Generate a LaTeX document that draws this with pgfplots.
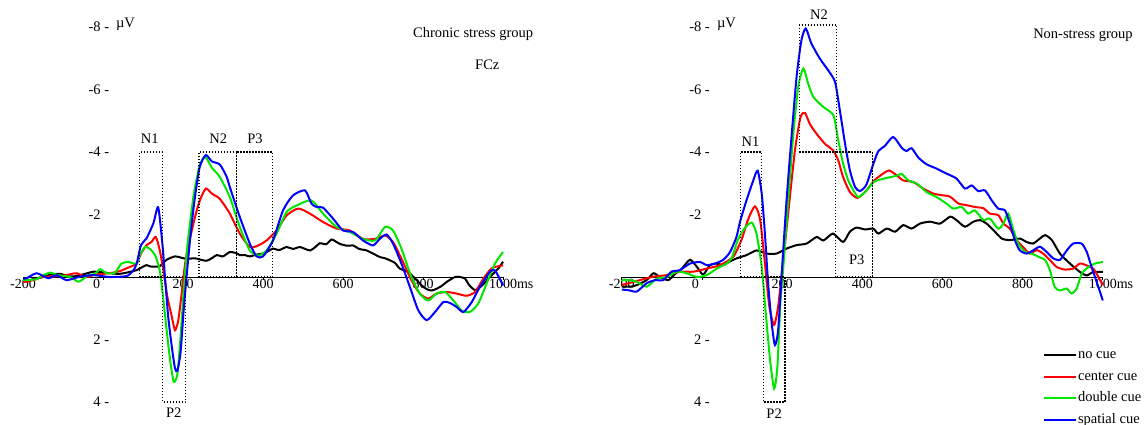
\documentclass[border=0pt]{standalone}
\usepackage{fontspec}
\setmainfont{Liberation Serif}
\usepackage{pgfplots}
\pgfplotsset{compat=1.18}

\definecolor{cuered}{RGB}{255,0,0}
\definecolor{cuegreen}{RGB}{0,230,0}
\definecolor{cueblue}{RGB}{0,0,255}
\definecolor{cueblack}{RGB}{0,0,0}
\newcommand{\lbl}{\fontsize{14.5}{17}\selectfont}

\pgfplotsset{
  erp/.style={
    scale only axis, height=418.75pt, anchor=south west,
    xmin=-200, xmax=1000, ymin=-8.8, ymax=4.6, y dir=reverse,
    axis x line=middle, axis y line=none,
    x axis line style={-, line width=1pt},
    xtick={-200,0,...,1000},
    xticklabels={-200,\makebox[0pt][r]{0\kern3pt},200,400,600,800,1000\rlap{ms}},
    ytick=\empty,
    major tick length=3pt, tick align=inside,
    xtick style={black, line width=0.8pt},
    x tick label style={font=\fontsize{14}{16}\selectfont, inner sep=2pt},
    clip=false,
    every axis plot/.append style={smooth, tension=0.4, line width=2pt},
  },
}
\tikzset{
  txt/.style={font=\lbl, inner sep=0pt},
  box/.style={black, line width=1.3pt, dash pattern=on 1.4pt off 1.6pt},
}

\begin{document}
\begin{tikzpicture}
\useasboundingbox (0,0) rectangle (1147pt,425pt);

% Chronic stress group
\begin{axis}[erp, width=480pt, at={(23pt,4.25pt)}]
  % no cue
  \addplot[cueblack] coordinates {
    (-200,0.1) (-191,0.15) (-170,0.05) (-150,0) (-130,-0.08) (-107,-0.1) (-85,-0.02)
    (-66,-0.03) (-45,-0.1) (-24,-0.17) (0,-0.15) (17,-0.12) (40,-0.1) (59,-0.14)
    (84,-0.22) (100,-0.33) (109,-0.38) (121,-0.33) (142,-0.35) (159,-0.55) (180,-0.66)
    (195,-0.62) (209,-0.58) (230,-0.6) (245,-0.55) (259,-0.52) (272,-0.6) (284,-0.7)
    (300,-0.66) (317,-0.8) (334,-0.76) (342,-0.7) (355,-0.7) (367,-0.66) (385,-0.72)
    (400,-0.75) (412,-0.82) (425,-0.91) (440,-0.86) (459,-0.96) (475,-0.9) (492,-0.96)
    (505,-0.9) (518,-0.85) (530,-0.95) (542,-1.08) (558,-1.05) (571,-1.2) (580,-1.15)
    (592,-1.06) (610,-1.0) (625,-1.01) (640,-0.9) (659,-0.85) (675,-0.75) (692,-0.64)
    (705,-0.6) (718,-0.53) (730,-0.45) (742,-0.27) (763,-0.16) (784,0.1) (801,0.32)
    (815,0.42) (826,0.42) (845,0.3) (860,0.15) (880,0.0) (892,0) (905,0.05) (915,0.25)
    (930,0.42) (945,0.3) (960,0.1) (975,-0.1) (990,-0.3) (1000,-0.49)
  };
  % center cue
  \addplot[cuered] coordinates {
    (-200,0.15) (-191,0.15) (-170,0.08) (-150,0) (-128,-0.02) (-107,-0.03) (-85,-0.08)
    (-66,-0.12) (-41,0) (-20,-0.08) (0,-0.1) (26,-0.14) (45,-0.2) (59,-0.28) (84,-0.43)
    (95,-0.75) (109,-1.02) (121,-1.12) (132,-1.28) (142,-0.85) (151,-0.2) (161,0.64)
    (172,1.27) (180,1.7) (188,1.4) (196,0.6) (205,-0.4) (213,-0.97) (230,-1.92)
    (242,-2.45) (257,-2.83) (272,-2.67) (292,-2.5) (317,-2.03) (342,-1.39) (367,-0.96)
    (388,-1.01) (409,-1.17) (434,-1.49) (459,-1.97) (488,-2.19) (517,-2.03) (550,-1.76)
    (584,-1.55) (617,-1.49) (650,-1.22) (680,-1.22) (705,-1.33) (725,-1.12) (746,-0.59)
    (771,0.1) (792,0.53) (813,0.69) (834,0.53) (859,0.48) (884,0.53) (909,0.6)
    (930,0.48) (951,0.05) (971,-0.27) (990,-0.35) (1000,-0.37)
  };
  % double cue
  \addplot[cuegreen] coordinates {
    (-200,0.1) (-191,0.1) (-166,0.07) (-150,-0.05) (-132,-0.14) (-112,-0.06) (-82,0)
    (-62,0.15) (-48,0.05) (-37,-0.06) (-20,-0.1) (-7,-0.25) (9,-0.12) (30,-0.14)
    (46,-0.43) (63,-0.48) (84,-0.43) (92,-0.7) (105,-0.96) (117,-0.9) (130,-0.7)
    (142,-0.2) (152,0.85) (161,1.92) (169,2.77) (177,3.36) (186,3.1) (194,1.9)
    (202,0.4) (211,-1.0) (226,-2.57) (241,-3.53) (255,-3.85) (272,-3.5) (292,-3.2)
    (317,-2.56) (342,-1.6) (367,-0.85) (388,-0.69) (409,-0.85) (434,-1.39) (459,-2.08)
    (484,-2.29) (521,-2.45) (550,-2.03) (584,-1.6) (617,-1.44) (650,-1.22) (680,-1.17)
    (705,-1.6) (725,-1.49) (746,-0.91) (771,0) (792,0.53) (813,0.75) (834,0.53)
    (855,0.48) (876,0.75) (896,1.07) (917,1.12) (938,0.85) (959,0.21) (980,-0.43)
    (1000,-0.8)
  };
  % spatial cue
  \addplot[cueblue] coordinates {
    (-200,0.05) (-191,0.04) (-166,-0.12) (-137,0.04) (-116,-0.06) (-91,0.1) (-58,-0.01)
    (-24,-0.06) (17,0) (59,-0.03) (75,-0.2) (84,-0.42) (95,-1.02) (109,-1.24)
    (126,-1.72) (138,-2.23) (149,-0.99) (155,0) (163,1.27) (172,2.23) (180,2.92)
    (186,3.0) (194,2.4) (202,1.0) (211,-0.3) (220,-1.5) (230,-2.57) (242,-3.53)
    (257,-3.9) (272,-3.7) (292,-3.6) (309,-3.21) (317,-2.88) (342,-1.92) (367,-1.07)
    (384,-0.66) (400,-0.66) (425,-1.17) (450,-2.13) (475,-2.61) (505,-2.77) (521,-2.35)
    (534,-2.24) (550,-2.22) (575,-1.87) (600,-1.49) (625,-1.44) (650,-1.17) (675,-1.01)
    (692,-1.22) (709,-1.36) (725,-1.07) (746,-0.43) (767,0.31) (788,1.06) (809,1.38)
    (830,1.12) (851,0.8) (867,0.83) (884,0.96) (901,1.12) (922,0.8) (942,0.32)
    (967,-0.16) (980,-0.21) (1000,0.27)
  };
  % component windows
  \draw[box] (axis cs:92,0) rectangle (axis cs:148,-4);
  \draw[box] (axis cs:149,0) rectangle (axis cs:207,4);
  \draw[box] (axis cs:240,0) rectangle (axis cs:333,-4);
  \draw[box] (axis cs:333,0) rectangle (axis cs:424,-4);
  \node[txt] at (axis cs:117,-4.42) {N1};
  \node[txt] at (axis cs:288,-4.42) {N2};
  \node[txt] at (axis cs:380,-4.42) {P3};
  \node[txt] at (axis cs:177,4.35) {P2};
  % y labels
  \pgfplotsinvokeforeach{-8,-6,-4,2,4}{\node[txt, anchor=east] at (axis cs:16,#1) {#1 -};}
  \node[txt, anchor=east] at (axis cs:16,-2) {-2\phantom{ -}};
  \node[txt, anchor=west] at (axis cs:32,-8.08) {µV};
  \node[txt, anchor=west] at (axis cs:775,-7.78) {Chronic stress group};
  \node[txt, anchor=west] at (axis cs:930,-6.78) {FCz};
\end{axis}

% Non-stress group
\begin{axis}[erp, width=481pt, at={(621.8pt,4.25pt)},
  legend style={draw=none, fill=none, at={(axis cs:843,2.2)}, anchor=north west,
    font=\lbl, cells={anchor=west}, row sep=6.5pt,
    nodes={inner sep=1pt, text height=10pt, text depth=3pt}},
  legend image code/.code={\draw[#1, line width=2pt] (0pt,0pt) -- (32pt,0pt);}]
  \addplot[cueblack] coordinates {
    (-200,0.3) (-180,0.31) (-163,0.26) (-138,0.1) (-121,-0.12) (-105,0) (-84,0.1)
    (-67,-0.1) (-50,-0.27) (-30,-0.55) (-13,-0.33) (3,-0.08) (20,-0.38) (37,-0.43)
    (53,-0.38) (70,-0.5) (87,-0.6) (111,-0.7) (136,-0.85) (161,-0.75) (186,-0.75)
    (211,-0.91) (236,-1.02) (261,-1.07) (286,-1.28) (303,-1.17) (327,-1.39) (352,-1.12)
    (369,-1.45) (386,-1.58) (407,-1.52) (427,-1.55) (440,-1.39) (461,-1.55) (482,-1.45)
    (502,-1.66) (523,-1.55) (544,-1.71) (569,-1.77) (594,-1.71) (619,-1.93) (635,-1.82)
    (656,-1.61) (677,-1.77) (694,-1.82) (710,-1.71) (727,-1.5) (748,-1.23) (769,-1.18)
    (793,-1.23) (810,-1.12) (826,-1.07) (843,-1.23) (856,-1.34) (873,-1.18) (893,-0.75)
    (918,-0.43) (943,-0.16) (960,-0.05) (976,-0.16) (1000,-0.16)
  };
  \addplot[cuered] coordinates {
    (-200,0.25) (-183,0.2) (-155,0.1) (-121,-0.01) (-88,-0.06) (-55,-0.17) (-22,-0.17)
    (12,-0.27) (45,-0.38) (78,-0.65) (99,-1.2) (115,-1.84) (132,-2.26) (145,-1.84)
    (157,-0.44) (168,0.94) (180,1.53) (190,0.94) (201,-0.33) (215,-2.03) (232,-4.06)
    (246,-5.12) (257,-5.25) (269,-4.9) (286,-4.58) (307,-4.26) (327,-4.05) (340,-3.73)
    (352,-3.2) (369,-2.72) (388,-2.53) (409,-2.75) (430,-3.09) (452,-3.31) (467,-3.41)
    (486,-3.25) (502,-3.09) (527,-3.04) (552,-2.83) (577,-2.67) (598,-2.62) (619,-2.57)
    (640,-2.35) (660,-2.3) (681,-2.24) (702,-2.2) (718,-2.03) (739,-1.98) (752,-1.71)
    (768,-1.55) (785,-1.18) (801,-0.96) (818,-0.75) (835,-0.86) (851,-0.75) (868,-0.54)
    (885,-0.32) (905,-0.24) (926,-0.27) (943,-0.43) (960,-0.37) (976,-0.27) (989,0)
    (1000,0.26)
  };
  \addplot[cuegreen] coordinates {
    (-200,0.1) (-183,0.1) (-163,0.15) (-138,0.31) (-113,0.05) (-88,0) (-63,-0.17)
    (-38,-0.12) (-13,0) (12,-0.06) (37,-0.27) (61,-0.43) (74,-0.6) (90,-1.2)
    (107,-1.57) (124,-1.74) (136,-1.39) (149,-0.33) (160,1.28) (170,2.67) (180,3.57)
    (188,2.9) (196,0.74) (203,-0.33) (215,-2.45) (228,-4.58) (240,-6.08) (253,-6.67)
    (265,-6.19) (278,-5.76) (303,-5.44) (328,-5.17) (340,-4.37) (352,-3.63) (365,-3.09)
    (378,-2.77) (390,-2.56) (407,-2.72) (430,-3.05) (461,-3.17) (486,-3.24) (498,-3.3)
    (515,-3.09) (536,-2.99) (560,-2.72) (585,-2.56) (610,-2.35) (627,-2.19) (648,-2.24)
    (664,-2.03) (681,-2.13) (702,-1.82) (718,-1.87) (739,-1.55) (752,-1.71) (764,-2.03)
    (777,-1.5) (789,-1.07) (806,-0.8) (822,-0.75) (839,-0.65) (856,-0.54) (868,-0.22)
    (880,0.32) (893,0.43) (910,0.37) (922,0.53) (935,0.37) (947,-0.1) (964,-0.32)
    (980,-0.43) (1000,-0.48)
  };
  \addplot[cueblue] coordinates {
    (-200,0.4) (-180,0.43) (-163,0.47) (-138,0.2) (-117,0.1) (-97,0.1) (-76,-0.17)
    (-55,-0.22) (-30,-0.43) (-5,-0.48) (12,-0.38) (32,-0.43) (53,-0.55) (70,-0.8)
    (86,-1.28) (95,-1.77) (111,-2.45) (128,-3.09) (139,-3.4) (149,-2.67) (157,-1.39)
    (165,0.2) (174,1.49) (182,2.18) (190,1.7) (199,-0.11) (211,-2.45) (224,-4.58)
    (236,-6.4) (248,-7.57) (259,-7.95) (273,-7.47) (294,-6.99) (315,-6.61) (332,-6.24)
    (344,-5.33) (357,-4.26) (369,-3.41) (382,-2.88) (394,-2.75) (410,-2.95) (427,-3.6)
    (440,-4.03) (456,-4.19) (477,-4.48) (498,-4.14) (510,-4.03) (523,-4.12) (540,-3.82)
    (560,-3.61) (585,-3.47) (610,-3.31) (635,-3.15) (656,-2.83) (673,-2.93) (689,-2.75)
    (706,-2.77) (723,-2.45) (739,-2.19) (756,-2.13) (768,-1.71) (781,-1.17) (793,-0.85)
    (810,-0.75) (826,-0.85) (843,-0.97) (860,-0.8) (876,-0.6) (893,-0.55) (910,-0.85)
    (926,-1.07) (947,-1.07) (960,-0.8) (972,-0.32) (989,0.32) (1000,0.75)
  };
  \legend{no cue, center cue, double cue, spatial cue}
  \draw[box] (axis cs:96,0) rectangle (axis cs:149,-4);
  \draw[box] (axis cs:153,0) rectangle (axis cs:207,4);
  \draw[box] (axis cs:243,-4) rectangle (axis cs:336,-8.06);
  \draw[box] (axis cs:333,0) rectangle (axis cs:425,-4);
  \node[txt] at (axis cs:121,-4.33) {N1};
  \node[txt] at (axis cs:292,-8.38) {N2};
  \node[txt] at (axis cs:386,-0.54) {P3};
  \node[txt] at (axis cs:180,4.36) {P2};
  \pgfplotsinvokeforeach{-8,-6,-4,2,4}{\node[txt, anchor=east] at (axis cs:20,#1) {#1 -};}
  \node[txt, anchor=east] at (axis cs:20,-2) {-2\phantom{ -}};
  \node[txt, anchor=west] at (axis cs:37,-8.08) {µV};
  \node[txt, anchor=west] at (axis cs:826,-7.74) {Non-stress group};
\end{axis}
\end{tikzpicture}
\end{document}
